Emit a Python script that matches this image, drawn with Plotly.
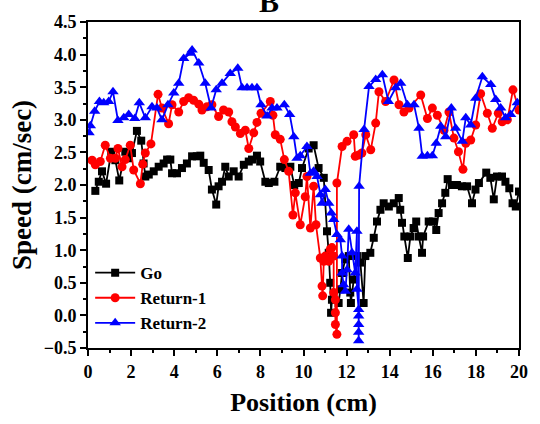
import plotly.graph_objects as go

go_x = [0.34,0.50,0.65,0.84,1.08,1.27,1.45,1.73,1.89,2.04,2.27,2.47,2.58,2.66,2.82,3.05,3.28,3.51,3.67,3.82,3.90,4.13,4.36,4.59,4.83,5.05,5.21,5.37,5.60,5.75,5.95,6.06,6.22,6.37,6.53,6.76,6.99,7.23,7.46,7.61,7.84,7.99,8.23,8.39,8.65,8.92,9.16,9.39,9.57,9.78,9.93,10.24,10.47,10.70,10.94,11.09,11.17,11.24,11.28,11.32,11.63,11.71,11.79,11.94,12.10,12.17,12.20,12.33,12.48,12.64,12.79,12.87,13.10,13.26,13.41,13.57,13.72,13.96,14.19,14.42,14.49,14.57,14.68,14.84,14.96,15.11,15.23,15.35,15.50,15.55,15.81,16.01,16.16,16.27,16.43,16.58,16.69,16.89,17.12,17.35,17.59,17.82,17.98,18.14,18.48,18.67,18.83,18.98,19.21,19.37,19.55,19.70,19.85,20.0]
go_y = [1.91,2.05,2.21,2.02,2.51,2.38,2.07,2.51,2.41,2.49,2.83,2.68,2.33,2.13,2.16,2.21,2.28,2.33,2.39,2.39,2.18,2.18,2.26,2.33,2.44,2.44,2.45,2.34,2.23,1.93,1.70,1.98,2.05,2.28,2.13,2.21,2.13,2.31,2.36,2.39,2.45,2.36,2.05,2.03,2.05,2.28,2.26,2.28,2.00,2.03,2.26,2.56,2.61,2.26,2.11,1.29,0.96,0.50,0.04,0.24,0.19,0.40,0.65,0.86,0.91,0.35,0.19,0.55,0.91,0.81,0.19,0.91,0.96,1.19,1.44,1.62,1.72,1.67,1.72,1.80,1.62,1.42,1.21,0.88,1.21,1.34,1.44,1.21,0.96,1.21,1.44,1.44,1.31,1.57,1.72,1.88,2.09,2.00,2.00,1.98,1.98,1.72,1.93,2.03,2.19,2.11,1.78,2.13,2.13,2.05,1.95,1.72,1.67,1.90]

r1_x = [0.19,0.34,0.57,0.80,1.04,1.27,1.39,1.58,1.73,1.96,2.12,2.43,2.54,2.66,2.92,3.25,3.43,3.74,3.90,4.21,4.44,4.67,4.90,5.14,5.29,5.52,5.75,6.06,6.29,6.53,6.68,6.84,7.07,7.30,7.46,7.69,7.84,8.03,8.46,8.58,8.69,8.92,9.11,9.31,9.51,9.62,9.85,10.08,10.16,10.32,10.47,10.58,10.78,10.86,10.89,10.94,11.01,11.17,11.24,11.32,11.40,11.40,11.48,11.48,11.48,11.55,11.55,11.79,12.02,12.33,12.40,12.56,12.71,12.89,13.12,13.35,13.50,13.81,14.20,14.43,14.66,14.90,15.44,15.75,15.98,16.21,16.52,16.75,16.98,17.19,17.40,17.53,17.76,17.99,18.22,18.53,18.76,19.04,19.22,19.46,19.72,20.0]
r1_y = [2.38,2.31,2.36,2.61,2.41,2.41,2.56,2.28,2.39,2.61,2.23,2.02,2.32,2.49,2.63,3.39,3.18,2.94,3.23,3.12,3.28,3.34,3.30,3.24,3.15,3.20,3.23,3.05,3.15,3.12,2.97,2.89,2.79,2.84,2.56,2.80,2.96,3.10,3.28,3.07,2.77,2.70,2.39,2.21,1.54,1.88,1.39,1.82,2.13,1.34,1.98,1.39,0.88,0.45,0.30,0.83,0.91,0.83,1.01,1.04,0.91,0.35,0.24,0.04,-0.14,-0.29,2.03,2.59,2.67,2.77,2.44,2.46,2.49,2.77,2.54,2.95,3.43,3.28,3.61,3.23,3.12,3.18,3.38,3.02,3.18,3.07,2.84,3.12,2.72,2.51,2.24,2.64,2.69,2.92,3.40,3.10,2.87,3.10,2.97,3.00,3.46,3.15]

r2_x = [0.05,0.11,0.31,0.53,0.73,0.96,1.16,1.39,1.66,1.89,2.17,2.38,2.66,2.97,3.20,3.43,3.71,3.98,4.21,4.44,4.75,4.83,5.14,5.44,5.71,5.95,6.22,6.60,6.95,7.15,7.38,7.61,7.84,8.03,8.31,8.54,8.77,9.11,9.36,9.55,9.70,9.85,10.16,10.32,10.47,10.63,10.78,10.86,11.01,11.17,11.29,11.40,11.55,11.71,11.79,11.79,11.86,11.94,12.02,12.10,12.25,12.40,12.48,12.48,12.56,12.56,12.56,12.56,12.56,12.58,12.81,13.04,13.35,13.66,13.94,14.28,14.51,14.82,15.13,15.36,15.51,15.75,15.98,16.16,16.37,16.60,16.86,17.06,17.37,17.53,17.76,17.99,18.30,18.69,18.92,19.15,19.38,19.61,19.92]
r2_y = [2.80,2.91,3.13,3.28,3.26,3.28,3.43,2.99,3.03,3.08,3.02,3.26,3.03,3.20,3.18,3.00,3.23,3.41,3.56,3.94,4.02,4.07,3.87,3.56,3.18,3.46,3.56,3.71,3.79,3.49,3.49,3.49,3.49,3.23,3.06,3.18,3.18,3.23,3.08,2.74,2.41,2.45,2.59,2.18,2.21,2.13,1.85,1.72,1.93,1.72,1.57,1.47,1.24,1.16,0.91,0.65,0.47,0.37,0.70,1.32,0.96,0.65,1.29,0.40,0.09,-0.01,-0.14,-0.26,-0.39,1.98,2.85,3.51,3.62,3.69,3.28,3.49,3.56,3.23,3.23,2.87,2.44,2.45,2.45,2.64,2.90,2.74,3.18,2.87,2.67,3.03,2.92,3.33,3.66,3.54,3.31,3.18,3.03,3.08,3.26]

FONT = "Liberation Serif"

fig = go.Figure()
fig.add_trace(go.Scatter(x=go_x, y=go_y, name="<b>Go</b>", mode="lines+markers",
                         line=dict(color="black", width=1.8),
                         marker=dict(symbol="square", size=8, color="black")))
fig.add_trace(go.Scatter(x=r1_x, y=r1_y, name="<b>Return-1</b>", mode="lines+markers",
                         line=dict(color="red", width=1.8),
                         marker=dict(symbol="circle", size=9, color="red")))
fig.add_trace(go.Scatter(x=r2_x, y=r2_y, name="<b>Return-2</b>", mode="lines+markers",
                         line=dict(color="blue", width=1.8),
                         marker=dict(symbol="triangle-up", size=10, color="blue")))

axis_common = dict(showline=True, linecolor="black", linewidth=2, mirror=True,
                   ticks="outside", tickcolor="black", tickwidth=2, ticklen=6,
                   showgrid=False, zeroline=False,
                   tickfont=dict(family=FONT, size=18, color="black"))

fig.update_xaxes(range=[0, 20], dtick=2, tick0=0,
                 minor=dict(dtick=1, ticks="outside", ticklen=3, tickwidth=2, tickcolor="black"),
                 title=dict(text="<b>Position (cm)</b>", font=dict(family=FONT, size=26, color="black"), standoff=12),
                 **axis_common)
fig.update_yaxes(range=[-0.5, 4.5], dtick=0.5, tick0=0, tickformat=".1f",
                 minor=dict(dtick=0.25, ticks="outside", ticklen=3, tickwidth=2, tickcolor="black"),
                 title=dict(text="<b>Speed (cm/sec)</b>", font=dict(family=FONT, size=27, color="black"), standoff=4),
                 **axis_common)
fig.update_xaxes(tickprefix="<b>", ticksuffix="</b>")
fig.update_yaxes(tickprefix="<b>", ticksuffix="</b>")

fig.add_annotation(text="<b>B</b>", x=0.42, y=1.0, xref="paper", yref="paper",
                   xanchor="center", yanchor="bottom", yshift=2, showarrow=False,
                   font=dict(family=FONT, size=30, color="black"))

fig.update_layout(width=540, height=424, margin=dict(l=88, r=19, t=22, b=75),
                  paper_bgcolor="white", plot_bgcolor="white",
                  showlegend=True,
                  legend=dict(x=0.005, y=0.285, xanchor="left", yanchor="top",
                              bgcolor="rgba(0,0,0,0)", tracegroupgap=0, itemwidth=40,
                              font=dict(family=FONT, size=17, color="black")))

fig.write_html("out.html")
